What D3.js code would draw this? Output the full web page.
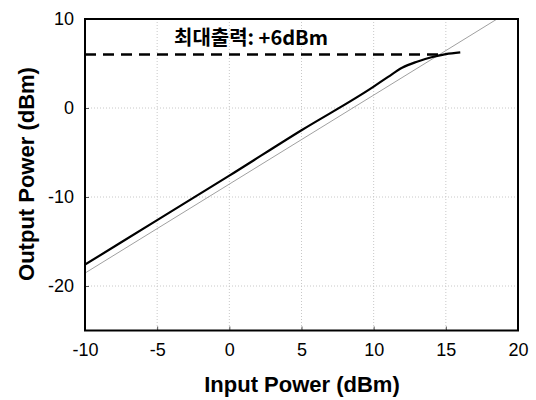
<!DOCTYPE html>
<html><head><meta charset="utf-8">
<script src="https://cdn.jsdelivr.net/npm/d3@7"></script>
<style>body{margin:0;background:#fff}</style>
</head><body>
<svg id="c" width="536" height="400"></svg>
<script>
const xTicks = [-10, -5, 0, 5, 10, 15, 20];
const yTicks = [-20, -10, 0, 10];
const measIn  = [-10, -5, 0, 5, 10, 11, 12, 13, 14, 15, 16];
const measOut = [-17.6, -12.6, -7.6, -2.5, 2.4, 3.5, 4.55, 5.2, 5.7, 6.05, 6.25];
const idealIn  = [-10, 20];
const idealOut = [-18.55, 11.45];
const maxOut = 6;
const maxOutEndIn = 14.8;
const annot = "최대출력: +6dBm";

const svg = d3.select("#c");
const L = 85, R = 518, T = 19, B = 330.5;
const x = d3.scaleLinear().domain([-10, 20]).range([L, R]);
const y = d3.scaleLinear().domain([-25, 10]).range([B, T]);
const font = "'Liberation Sans', Arial, sans-serif";

svg.append("defs").append("clipPath").attr("id","clip")
  .append("rect").attr("x",L).attr("y",T).attr("width",R-L).attr("height",B-T);

// grid
const g = svg.append("g");
g.selectAll(".gx").data(xTicks.slice(1,-1)).enter().append("line")
  .attr("x1",d=>x(d)).attr("x2",d=>x(d)).attr("y1",T).attr("y2",B)
  .attr("stroke","#c8c8c8").attr("stroke-width",1).attr("stroke-dasharray","1,2");
g.selectAll(".gy").data(yTicks.filter(d=>d<10)).enter().append("line")
  .attr("y1",d=>y(d)).attr("y2",d=>y(d)).attr("x1",L).attr("x2",R)
  .attr("stroke","#c8c8c8").attr("stroke-width",1).attr("stroke-dasharray","1,2");

// axes (inward ticks)
const fmt = d => String(d);
const xa = svg.append("g").attr("transform",`translate(0,${B})`)
  .call(d3.axisBottom(x).tickValues(xTicks).tickSize(-4).tickPadding(13).tickFormat(fmt));
const ya = svg.append("g").attr("transform",`translate(${L},0)`)
  .call(d3.axisLeft(y).tickValues(yTicks).tickSize(-4).tickPadding(11).tickFormat(fmt));
[xa, ya].forEach(a=>{
  a.select(".domain").remove();
  a.selectAll("text").attr("font-family",font).attr("font-size",18).attr("fill","#000");
  a.selectAll("line").attr("stroke","#555");
});
xa.selectAll("text").attr("dy","0.72em");

const clip = svg.append("g").attr("clip-path","url(#clip)");
// ideal line
clip.append("path")
  .attr("d", d3.line().x((d,i)=>x(idealIn[i])).y(d=>y(d))(idealOut))
  .attr("fill","none").attr("stroke","#a0a0a0").attr("stroke-width",1);
// measured
clip.append("path")
  .attr("d", d3.line().curve(d3.curveMonotoneX).x((d,i)=>x(measIn[i])).y(d=>y(d))(measOut))
  .attr("fill","none").attr("stroke","#000").attr("stroke-width",2.2);
// max output dashed
clip.append("line").attr("x1",x(-10)).attr("x2",x(maxOutEndIn))
  .attr("y1",y(maxOut)).attr("y2",y(maxOut))
  .attr("stroke","#000").attr("stroke-width",2.5).attr("stroke-dasharray","11,7");

// frame
svg.append("rect").attr("x",L).attr("y",T).attr("width",R-L).attr("height",B-T)
  .attr("fill","none").attr("stroke","#000").attr("stroke-width",2);

svg.append("text").attr("x",251).attr("y",45).attr("text-anchor","middle")
  .attr("font-family","'Noto Sans CJK KR', sans-serif").attr("font-weight","bold")
  .attr("font-size",20).text(annot);

svg.append("text").attr("x",302).attr("y",392).attr("text-anchor","middle")
  .attr("font-family",font).attr("font-weight","bold").attr("font-size",22)
  .text("Input Power (dBm)");
svg.append("text").attr("transform","translate(34,174) rotate(-90)").attr("text-anchor","middle")
  .attr("font-family",font).attr("font-weight","bold").attr("font-size",22)
  .text("Output Power (dBm)");
</script>
</body></html>
